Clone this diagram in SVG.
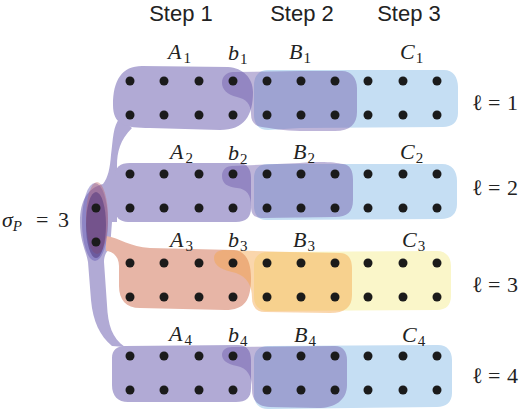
<svg xmlns="http://www.w3.org/2000/svg" width="523" height="411" viewBox="0 0 523 411">
<style>
.a{fill:#b1aad5}
.s3{fill:#e7b5a6}
.c{fill:#c5def3}
.y{fill:#faf6c9}
.bp{fill:#6e5aaa;fill-opacity:.45}
.bo{fill:#f5a546;fill-opacity:.45}
.d{fill:#1b1b1b}
.st{font-family:"Liberation Sans",Arial,sans-serif;font-size:22px;fill:#222}
.m{font-family:"Liberation Serif","DejaVu Serif",serif;font-size:22px;font-style:italic;fill:#222}
.sub{font-size:15px;font-style:normal}
.subi{font-size:15px;font-style:italic}
.n{font-style:normal}
</style>
<defs>
<g id="dots">
<circle cx="130" cy="0" r="4.5"/><circle cx="164" cy="0" r="4.5"/><circle cx="199" cy="0" r="4.5"/><circle cx="233" cy="0" r="4.5"/><circle cx="267" cy="0" r="4.5"/><circle cx="301" cy="0" r="4.5"/><circle cx="335" cy="0" r="4.5"/><circle cx="368" cy="0" r="4.5"/><circle cx="403" cy="0" r="4.5"/><circle cx="437" cy="0" r="4.5"/>
</g>
</defs>
<rect width="523" height="411" fill="#fff"/>

<g id="connectors">
<path class="a" d="M120,118 C113,125 113,140 111,155 C110,168 108,178 103,184 C88,188 80,200 80,222 C80,242 86,250 88,262 L91,300 C93,322 100,336 112,346 L125,347 C112,338 108,325 107,305 L104,262 C104,256 106,252 110,248 L112,222 L117,222 L117,166 C117,152 120,140 132,128 Z"/>
</g>

<g id="A1"><path class="a" d="M113,105 C113,80 122,66 142,66 L228,67 C243,68 253,78 253,92 C253,116 244,130 220,130 L150,128 C125,128 113,125 113,105 Z"/></g>
<g id="A2"><path class="a" d="M115,176 C115,167 120,163 130,163 L238,163 C247,163 251,169 251,178 L251,208 C251,217 246,222 236,222 L128,222 C120,222 115,217 115,210 Z"/></g>
<g id="A3"><path class="s3" d="M106,236 C120,238 130,247 150,248 L234,250 C246,251 251,262 251,278 C251,300 245,310 225,310 L140,308 C126,308 119,300 119,286 L119,266 C119,256 112,251 106,251 Z"/></g>
<g id="A4"><path class="a" d="M125,346 L238,345 C247,345 251,351 251,360 L251,388 C251,398 246,402 236,402 L128,402 C118,402 112,396 112,385 L112,358 C112,350 117,346 125,346 Z"/></g>

<g id="sigmaP">
<ellipse cx="95" cy="222" rx="13" ry="39" fill="#6458b4" fill-opacity=".45"/>
<ellipse cx="97" cy="218" rx="11" ry="36" fill="#be5a5a" fill-opacity=".35"/>
<ellipse cx="96" cy="225" rx="10" ry="33" fill="#4a3278" fill-opacity=".5"/>
<circle class="d" cx="96" cy="208" r="4.5"/>
<circle class="d" cx="96" cy="242" r="4.5"/>
<text class="m" x="2" y="227">σ<tspan class="subi" dy="4">P</tspan><tspan class="n" x="36" dy="-4">=</tspan><tspan class="n" x="58">3</tspan></text>
</g>

<g id="C1"><path class="c" d="M268,70 L444,70 C453,70 458,77 458,87 L458,113 C458,122 452,127 443,127 L300,128 L268,130 C259,130 254,124 254,115 L254,85 C254,76 259,70 268,70 Z"/></g>
<g id="C2"><path class="c" d="M268,164 L442,164 C452,164 457,171 457,181 L457,204 C457,214 451,219 441,219 L266,220 C258,220 254,214 254,206 L254,178 C254,169 259,164 268,164 Z"/></g>
<g id="C3"><path class="y" d="M268,252 L437,251 C446,251 451,257 451,266 L451,296 C451,305 446,310 437,310 L268,311 C259,311 254,305 254,297 L254,265 C254,257 259,252 268,252 Z"/></g>
<g id="C4"><path class="c" d="M268,346 L438,345 C447,345 452,351 452,360 L452,393 C452,402 446,407 437,407 L268,409 C259,409 254,403 254,395 L254,360 C254,351 259,346 268,346 Z"/></g>

<g id="B1"><path class="bp" d="M233,72 L300,71 L342,71 C351,71 357,78 357,88 L357,112 C357,124 350,131 335,131 L300,131 C285,131 270,128 262,127 C255,126 251,122 251,114 C251,104 246,99 237,97 C227,95 222,89 222,83 C222,76 227,72 233,72 Z"/></g>
<g id="B2"><path class="bp" d="M232,166 L300,163 C320,161 335,162 343,164 C350,165 353,170 353,180 L353,200 C353,212 347,217 335,217 L262,218 C254,218 251,214 251,206 C251,195 247,189 237,188 C228,187 222,184 222,176 C222,170 226,166 232,166 Z"/></g>
<g id="B3"><path class="bo" d="M225,250 L290,252 L340,253 C348,253 352,259 352,268 L352,295 C352,307 345,313 330,313 L265,312 C257,312 252,307 252,298 C252,285 247,277 236,273 C222,270 214,266 214,258 C214,253 218,250 225,250 Z"/></g>
<g id="B4"><path class="bp" d="M232,347 L335,346 C343,346 347,352 347,360 L347,385 C347,400 335,408 318,408 L270,407 C258,407 252,400 252,390 C252,375 247,368 237,366 C227,364 222,360 222,355 C222,350 226,347 232,347 Z"/></g>

<g id="grid" class="d">
<use href="#dots" y="81"/><use href="#dots" y="115"/>
<use href="#dots" y="174"/><use href="#dots" y="208"/>
<use href="#dots" y="263"/><use href="#dots" y="297"/>
<use href="#dots" y="356"/><use href="#dots" y="390"/>
</g>

<g id="steps">
<text class="st" x="181" y="21" text-anchor="middle">Step 1</text>
<text class="st" x="302" y="21" text-anchor="middle">Step 2</text>
<text class="st" x="409" y="21" text-anchor="middle">Step 3</text>
</g>

<g id="labels">
<text class="m" x="168" y="59">A<tspan class="sub" dx="2" dy="4">1</tspan></text>
<text class="m" x="228" y="60">b<tspan class="sub" dx="1" dy="4">1</tspan></text>
<text class="m" x="289" y="59">B<tspan class="sub" dx="1" dy="4">1</tspan></text>
<text class="m" x="400" y="59">C<tspan class="sub" dx="1" dy="4">1</tspan></text>
<text class="m" x="170" y="159">A<tspan class="sub" dx="2" dy="4">2</tspan></text>
<text class="m" x="228" y="160">b<tspan class="sub" dx="1" dy="4">2</tspan></text>
<text class="m" x="293" y="159">B<tspan class="sub" dx="1" dy="4">2</tspan></text>
<text class="m" x="400" y="159">C<tspan class="sub" dx="1" dy="4">2</tspan></text>
<text class="m" x="170" y="247">A<tspan class="sub" dx="2" dy="4">3</tspan></text>
<text class="m" x="228" y="247">b<tspan class="sub" dx="1" dy="4">3</tspan></text>
<text class="m" x="293" y="247">B<tspan class="sub" dx="1" dy="4">3</tspan></text>
<text class="m" x="402" y="247">C<tspan class="sub" dx="1" dy="4">3</tspan></text>
<text class="m" x="169" y="341">A<tspan class="sub" dx="2" dy="4">4</tspan></text>
<text class="m" x="228" y="342">b<tspan class="sub" dx="1" dy="4">4</tspan></text>
<text class="m" x="294" y="342">B<tspan class="sub" dx="1" dy="4">4</tspan></text>
<text class="m" x="402" y="342">C<tspan class="sub" dx="1" dy="4">4</tspan></text>
</g>

<g id="levels" class="m">
<text x="472" y="110"><tspan class="n">ℓ</tspan><tspan class="n" x="488">=</tspan><tspan class="n" x="507">1</tspan></text>
<text x="472" y="195"><tspan class="n">ℓ</tspan><tspan class="n" x="488">=</tspan><tspan class="n" x="507">2</tspan></text>
<text x="472" y="292"><tspan class="n">ℓ</tspan><tspan class="n" x="488">=</tspan><tspan class="n" x="507">3</tspan></text>
<text x="472" y="383"><tspan class="n">ℓ</tspan><tspan class="n" x="488">=</tspan><tspan class="n" x="507">4</tspan></text>
</g>
</svg>
